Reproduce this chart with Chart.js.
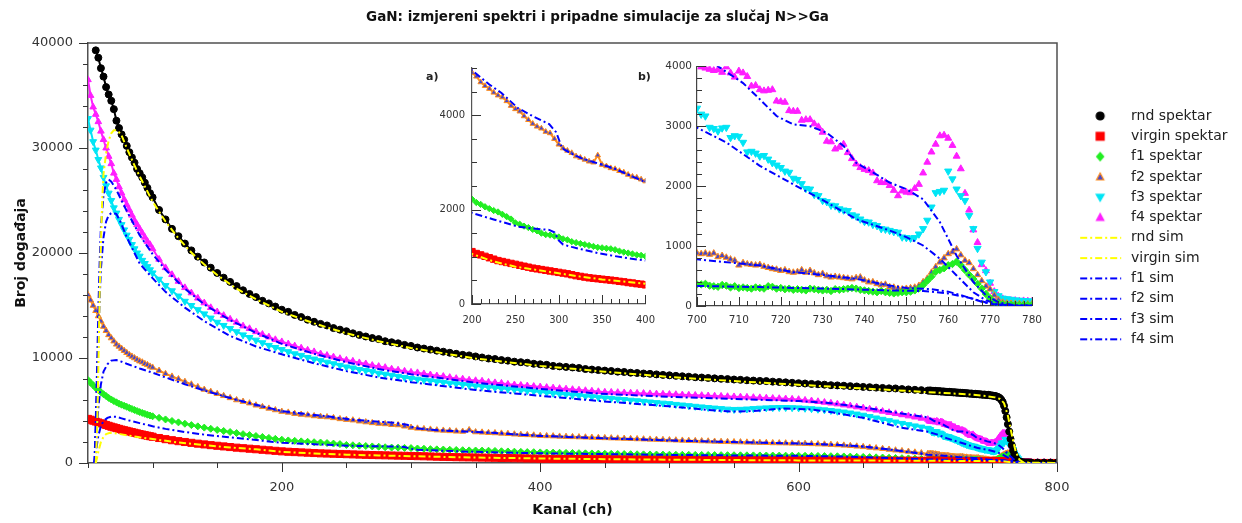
<!DOCTYPE html>
<html><head><meta charset="utf-8">
<script src="https://cdn.jsdelivr.net/npm/chart.js@4.4.1/dist/chart.umd.min.js"></script>
<style>
html,body{margin:0;padding:0;background:#fff;}
#wrap{position:relative;width:1242px;height:523px;overflow:hidden;background:#fff;}
canvas{position:absolute;}
#main{left:0;top:0;}
#insetA{left:430px;top:55px;}
#insetB{left:660px;top:55px;}
.lbl{position:absolute;font:bold 11px "DejaVu Sans",Verdana,sans-serif;color:#222;}
</style></head><body>
<div id="wrap">
<canvas id="main" width="1242" height="523"></canvas>
<canvas id="insetA" width="235" height="275"></canvas>
<canvas id="insetB" width="390" height="275"></canvas>
<div class="lbl" style="left:426px;top:70px">a)</div>
<div class="lbl" style="left:638px;top:70px">b)</div>
</div>
<script>
// ---------- channels (x) for the measured spectra ----------
const channels = [50,52,54,56,58,60,62,64,66,68,70,72,74,76,78,80,82,84,86,88,90,92,94,96,98,100,
105,110,115,120,125,130,135,140,145,150,
155,160,165,170,175,180,185,190,195,200,
205,210,215,220,225,230,235,240,245,250,
255,260,265,270,275,280,285,290,295,300,
305,310,315,320,325,330,335,340,345,350,
355,360,365,370,375,380,385,390,395,400,
405,410,415,420,425,430,435,440,445,450,
455,460,465,470,475,480,485,490,495,500,
505,510,515,520,525,530,535,540,545,550,
555,560,565,570,575,580,585,590,595,600,
605,610,615,620,625,630,635,640,645,650,
655,660,665,670,675,680,685,690,695,700,
701,702,703,704,705,706,707,708,709,710,
711,712,713,714,715,716,717,718,719,720,
721,722,723,724,725,726,727,728,729,730,
731,732,733,734,735,736,737,738,739,740,
741,742,743,744,745,746,747,748,749,750,
751,752,753,754,755,756,757,758,759,760,
761,762,763,764,765,766,767,768,769,770,
771,772,773,774,775,776,777,778,779,780,
785,790,795,800];

// ---------- measured spectra (counts) ----------
const rndSpektar = [null,null,null,39300,38600,37600,36800,35800,35100,34500,33700,32600,31900,31300,30800,30200,29600,29100,28600,28000,27600,27200,26700,26200,25700,25300,
24100,23200,22300,21600,20900,20250,19650,19100,18600,18100,
17650,17250,16850,16450,16100,15800,15450,15200,14900,14600,
14400,14100,13900,13650,13450,13250,13100,12850,12700,12550,
12350,12200,12050,11900,11800,11600,11500,11400,11250,11150,
11000,10900,10800,10700,10600,10500,10400,10300,10250,10150,
10050,9950,9900,9800,9750,9650,9600,9550,9450,9400,
9350,9250,9200,9150,9100,9050,8950,8900,8850,8800,
8760,8700,8670,8600,8570,8520,8490,8440,8390,8350,
8300,8260,8220,8170,8140,8100,8060,8020,7990,7950,
7920,7880,7850,7820,7800,7750,7720,7680,7640,7600,
7570,7530,7500,7460,7410,7390,7360,7320,7290,7250,
7220,7180,7150,7110,7100,7040,7010,6970,6940,6900,
6890,6910,6870,6880,6850,6870,6840,6820,6850,6810,
6800,6820,6780,6790,6770,6760,6780,6740,6750,6720,
6740,6700,6710,6690,6700,6670,6680,6650,6660,6630,
6640,6610,6600,6620,6580,6570,6590,6550,6560,6530,
6540,6510,6500,6520,6480,6470,6490,6450,6440,6420,
6400,6380,6350,6300,6250,6150,6000,5800,5450,4950,
4350,3700,3000,2300,1700,1200,800,520,320,190,
120,85,65,55,50,45,50,40,45,40,
42,38,40,36];

const virginSpektar = [4200,4120,4030,3950,3860,3780,3700,3620,3540,3460,3390,3320,3250,3180,3120,3060,3000,2940,2880,2820,2760,2710,2650,2600,2550,2500,
2380,2270,2170,2080,2000,1920,1840,1770,1700,1640,
1580,1520,1460,1410,1360,1310,1260,1210,1160,1110,
1070,1040,1010,980,950,920,900,880,860,840,
820,800,780,760,745,730,715,700,685,670,
655,640,620,600,585,570,555,545,535,525,
515,505,495,480,470,455,445,430,420,405,
400,395,390,385,380,375,370,365,360,355,
350,345,340,335,330,325,322,318,314,310,
306,302,298,294,290,287,284,281,278,275,
272,269,266,263,260,258,256,254,252,250,
248,246,244,242,240,238,236,234,232,230,
228,226,224,222,220,218,216,214,212,210,
210,208,212,206,209,204,207,203,206,201,
204,200,203,199,201,197,200,196,198,194,
197,193,195,191,194,190,192,188,191,187,
189,186,188,184,187,183,185,181,184,180,
182,179,181,177,180,176,178,174,176,172,
174,170,172,168,165,160,155,150,140,130,
115,100,85,70,55,40,28,18,12,8,
6,5,5,4,4,3,3,3,3,3,
2,2,2,2];

const f1Spektar = [7900,7650,7400,7150,6950,6750,6550,6380,6200,6050,5900,5780,5650,5550,5450,5350,5250,5150,5050,4950,4850,4770,4680,4600,4520,4450,
4300,4150,4000,3870,3740,3610,3490,3370,3260,3150,
3050,2950,2850,2750,2660,2570,2480,2390,2300,2220,
2150,2110,2060,2020,1980,1950,1900,1850,1800,1720,
1690,1650,1620,1580,1550,1500,1470,1460,1440,1420,
1380,1360,1320,1300,1280,1260,1240,1220,1200,1190,
1180,1170,1150,1120,1100,1080,1060,1040,1030,1010,
1000,990,975,960,950,935,920,910,895,880,
870,860,850,840,830,820,815,805,800,790,
785,780,775,770,765,760,755,750,745,740,
735,730,725,720,715,710,705,700,695,690,
685,680,670,660,650,640,625,610,595,580,
560,540,520,500,480,460,440,420,390,360,
360,370,340,330,320,350,340,310,330,300,
310,300,290,310,300,290,330,320,290,300,
280,290,270,280,270,260,290,280,270,260,
270,250,280,270,280,290,300,290,270,260,
250,240,230,250,230,220,210,220,230,230,
240,260,290,350,420,490,570,600,630,680,
700,740,680,600,520,450,370,290,200,130,
70,40,30,25,20,20,18,15,15,15,
12,12,10,10];

const f2Spektar = [16000,15500,15000,14500,14000,13500,13000,12600,12200,11900,11600,11300,11100,10900,10700,10500,10300,10150,10000,9850,9700,9600,9450,9350,9200,9100,
8800,8500,8250,8000,7750,7500,7250,7000,6800,6600,
6400,6200,6000,5850,5700,5500,5350,5200,5050,4900,
4820,4700,4620,4560,4480,4420,4380,4300,4200,4130,
4080,3980,3900,3820,3760,3720,3650,3620,3500,3380,
3300,3250,3200,3130,3100,3060,3020,3000,3150,2950,
2920,2880,2860,2820,2790,2740,2700,2680,2640,2600,
2580,2560,2530,2510,2490,2470,2450,2430,2410,2390,
2370,2350,2330,2310,2290,2270,2250,2230,2210,2190,
2170,2150,2130,2110,2090,2070,2050,2030,2020,2000,
1990,1970,1960,1940,1930,1910,1900,1890,1870,1860,
1840,1820,1800,1780,1750,1720,1680,1640,1590,1540,
1480,1420,1360,1290,1220,1150,1090,1020,950,880,
870,880,860,880,820,840,810,780,760,680,
720,700,690,680,690,660,640,620,610,590,
600,570,560,570,600,560,590,550,520,540,
500,480,490,480,470,460,450,470,480,430,
400,400,370,350,360,320,310,290,280,290,
300,310,340,400,460,560,650,730,800,870,
900,950,850,760,720,620,520,420,330,280,
180,100,60,45,40,35,35,30,30,30,
28,25,25,22];

const f3Spektar = [32800,31700,30600,29800,28900,28100,27200,26400,25700,25000,24300,23800,23200,22700,22200,21700,21300,20800,20400,20000,19700,19300,19000,18700,18400,18100,
17500,16900,16400,15900,15400,15000,14600,14200,13800,13400,
13100,12800,12500,12200,11950,11700,11450,11200,11000,10800,
10600,10400,10250,10050,9900,9750,9600,9450,9300,9150,
9050,8900,8800,8700,8550,8450,8350,8250,8150,8050,
7980,7900,7830,7750,7680,7600,7540,7470,7400,7340,
7280,7220,7160,7100,7040,6990,6930,6880,6830,6760,
6700,6640,6580,6530,6470,6420,6360,6310,6250,6200,
6150,6090,6040,5980,5930,5870,5810,5750,5700,5650,
5580,5520,5460,5400,5340,5280,5230,5180,5130,5100,
5110,5140,5180,5220,5250,5270,5280,5280,5270,5250,
5210,5170,5120,5060,5000,4930,4850,4760,4660,4550,
4420,4290,4160,4030,3900,3770,3650,3530,3420,3300,
3200,3170,2980,2960,2920,2970,2980,2810,2840,2830,
2730,2570,2580,2550,2500,2510,2450,2390,2350,2310,
2250,2230,2130,2110,2040,1960,1950,1860,1840,1760,
1740,1680,1670,1620,1600,1590,1520,1500,1450,1410,
1400,1360,1340,1290,1280,1260,1240,1230,1150,1140,
1130,1140,1200,1290,1430,1650,1890,1910,1930,2250,
2120,1950,1840,1760,1510,1290,960,730,570,400,
240,170,130,120,110,100,95,90,85,80,
75,70,72,65];

const f4Spektar = [36500,35000,33900,33200,32500,31600,30800,30000,29200,28500,27600,27000,26300,25700,25100,24600,24100,23600,23100,22700,22300,21900,21500,21100,20800,20400,
19400,18600,17950,17300,16700,16200,15700,15250,14800,14400,
14050,13700,13400,13050,12800,12500,12250,12000,11750,11550,
11350,11150,10950,10750,10600,10400,10250,10100,9950,9800,
9700,9550,9450,9300,9200,9100,8950,8850,8750,8650,
8600,8500,8400,8300,8250,8150,8050,8000,7900,7850,
7800,7700,7650,7600,7500,7450,7400,7350,7300,7250,
7200,7150,7100,7050,7000,6950,6900,6850,6800,6750,
6740,6720,6690,6670,6650,6630,6600,6580,6560,6540,
6520,6490,6470,6450,6430,6400,6380,6360,6330,6310,
6290,6270,6240,6220,6190,6160,6140,6110,6080,6050,
5980,5920,5850,5780,5700,5620,5530,5440,5340,5240,
5140,5030,4920,4810,4700,4590,4480,4370,4260,4150,
3990,3970,3950,3930,3940,3900,3990,3890,3820,3920,
3890,3830,3670,3680,3610,3590,3600,3610,3420,3410,
3400,3260,3250,3250,3100,3110,3110,3040,2990,2900,
2750,2740,2620,2650,2700,2560,2460,2370,2310,2280,
2260,2220,2090,2060,2060,2010,1930,1840,1920,1900,
1890,1960,2030,2220,2400,2570,2700,2840,2850,2800,
2680,2500,2290,1880,1600,1270,1060,690,590,380,
240,160,120,100,90,90,80,85,80,75,
70,65,70,60];

// ---------- simulations ----------
const rndSimX = [56,57,58,59,60,61,62,64,66,68,70,72,74,76,80,85,90,100,110,120,130,140,150,165,180,200,225,250,275,300,350,400,450,500,550,600,650,700,730,745,752,756,759,762,765,768,771,774,780,800];
const rndSimY = [0,3000,9000,16000,21000,25000,27500,29500,30700,31400,31700,31700,31500,31200,30000,28600,27300,24900,23000,21400,20050,18900,17900,16600,15600,14400,13300,12350,11600,10950,9950,9250,8700,8200,7800,7450,7100,6750,6550,6380,6250,6100,5700,4500,2700,1100,300,60,20,10];

const virginSimX = [56,57,58,60,62,64,67,70,75,80,90,100,120,140,160,180,200,225,250,275,300,325,350,375,400,450,500,550,600,650,700,740,755,760,764,768,772,780,800];
const virginSimY = [0,500,1100,2000,2500,2750,2870,2850,2750,2650,2450,2280,1950,1700,1480,1300,1060,900,790,720,650,580,520,475,430,365,315,280,250,230,210,190,175,150,80,25,5,0,0];

const f1SimX = [55,56,57,58,60,62,65,68,72,76,80,90,100,110,125,140,157,175,200,225,253,270,289,295,300,305,315,326,345,363,380,400,450,500,550,600,625,650,675,700,715,731,746,754,760,766,770,774,780,800];
const f1SimY = [0,800,1800,2600,3500,4000,4300,4420,4400,4250,4100,3800,3500,3250,2950,2700,2480,2250,1930,1790,1640,1600,1570,1520,1350,1260,1210,1160,1080,1020,970,920,850,770,720,680,640,570,450,335,315,290,260,250,210,120,40,10,5,0];

const f2SimX = [55,56,57,58,60,62,65,68,72,76,80,90,100,110,125,140,157,175,200,220,234,253,270,289,297,304,315,326,345,363,380,400,450,500,550,600,625,650,675,700,715,723,731,738,746,750,756,760,764,768,772,776,800];
const f2SimY = [0,1500,3500,5300,7500,8700,9400,9750,9800,9650,9450,9000,8600,8150,7500,6900,6290,5700,4950,4650,4470,4150,3980,3810,3640,3300,3180,3090,2980,2880,2740,2580,2340,2140,1990,1860,1760,1580,1220,780,676,565,510,454,343,300,280,240,160,70,15,5,0];

const f3SimX = [55,56,57,58,59,60,62,64,66,68,70,72,75,80,90,100,110,125,140,160,180,200,225,250,275,300,350,400,446,500,530,549,565,588,610,627,650,678,700,707,715,723,731,738,746,750,754,758,762,766,769,772,776,800];
const f3SimY = [0,3000,7000,11500,15500,18500,21500,23000,23600,23800,23800,23700,23000,21500,19000,17600,16300,14800,13500,12100,11100,10350,9500,8750,8150,7700,6950,6400,5900,5400,5050,4900,4950,5200,5100,4800,4300,3400,2975,2730,2340,2030,1730,1450,1260,1150,1010,790,510,230,95,25,5,0];

const f4SimX = [55,56,57,58,59,60,62,64,66,68,72,76,80,90,100,110,125,140,160,180,200,225,250,275,300,350,400,446,500,550,600,625,650,675,700,705,711,715,719,723,727,731,735,738,742,746,750,754,758,762,766,769,772,776,800];
const f4SimY = [0,4000,9000,14500,19000,22500,25500,26700,27000,26800,26000,25000,24000,21700,19900,18400,16600,15100,13600,12400,11350,10400,9600,8950,8450,7650,7050,6600,6300,6100,5900,5700,5300,4800,4350,4000,3720,3450,3170,3030,3000,2890,2670,2390,2230,2060,1950,1780,1400,840,400,180,60,10,0];

// ---------- ticks ----------
const yMainTicks = [0,10000,20000,30000,40000];
const yMainMinor = [2000,4000,6000,8000,12000,14000,16000,18000,22000,24000,26000,28000,32000,34000,36000,38000];
const xMainTicks = [200,400,600,800];
const xMainMinor = [50,100,150,250,300,350,450,500,550,650,700,750];
const xATicks = [200,250,300,350,400];
const xAMinor = [210,220,230,240,260,270,280,290,310,320,330,340,360,370,380,390];
const yATicks = [0,2000,4000];
const yAMinor = [500,1000,1500,2500,3000,3500,4500,5000];
const xBTicks = [700,710,720,730,740,750,760,770,780];
const xBMinor = [702,704,706,708,712,714,716,718,722,724,726,728,732,734,736,738,742,744,746,748,752,754,756,758,762,764,766,768,772,774,776,778];
const yBTicks = [0,1000,2000,3000,4000];
const yBMinor = [200,400,600,800,1200,1400,1600,1800,2200,2400,2600,2800,3200,3400,3600,3800];

const FONT = "'DejaVu Sans', Verdana, sans-serif";
Chart.defaults.font.family = FONT;
Chart.defaults.color = '#333';

function xy(xs, ys) { const out = []; for (let i = 0; i < xs.length; i++) out.push({x: xs[i], y: ys[i]}); return out; }

const specDefs = [
  {label:'rnd spektar', ys: rndSpektar, style:'circle', rot:0, r:3.5, fill:'#000000', line:'#000000', mk:'circle'},
  {label:'virgin spektar', ys: virginSpektar, style:'rect', rot:0, r:5, fill:'#ff0000', line:'#ff0000', mk:'rect'},
  {label:'f1 spektar', ys: f1Spektar, style:'rectRot', rot:0, r:3.5, fill:'#22ee22', line:'#22ee22', mk:'diamond'},
  {label:'f2 spektar', ys: f2Spektar, style:'triangle', rot:0, r:3.5, fill:'#4848c8', line:'#ff8c1a', mk:'tri'},
  {label:'f3 spektar', ys: f3Spektar, style:'triangle', rot:180, r:4, fill:'#00e5f5', line:'#00e5f5', mk:'tridown'},
  {label:'f4 spektar', ys: f4Spektar, style:'triangle', rot:0, r:3.8, fill:'#ff1eff', line:'#ff1eff', mk:'tri'}
];
const simDefs = [
  {label:'rnd sim', xs: rndSimX, ys: rndSimY, color:'#ffff00'},
  {label:'virgin sim', xs: virginSimX, ys: virginSimY, color:'#ffff00'},
  {label:'f1 sim', xs: f1SimX, ys: f1SimY, color:'#0000ff'},
  {label:'f2 sim', xs: f2SimX, ys: f2SimY, color:'#0000ff'},
  {label:'f3 sim', xs: f3SimX, ys: f3SimY, color:'#0000ff'},
  {label:'f4 sim', xs: f4SimX, ys: f4SimY, color:'#0000ff'}
];
const DASH = [7,3,2,3];

function specDataset(d, opt) {
  return {
    label: d.label, data: xy(channels, d.ys), order: 1,
    showLine: opt.line, borderColor: d.line, borderWidth: opt.lineWidth || 2,
    backgroundColor: d.fill, pointStyle: d.style, rotation: d.rot,
    pointRadius: d.r * (opt.scale || 1), pointBackgroundColor: d.fill, pointBorderColor: d.line, pointBorderWidth: 1
  };
}
function simDataset(d) {
  return { label: d.label, data: xy(d.xs, d.ys), order: 0, showLine: true, borderColor: d.color,
    backgroundColor: d.color, borderWidth: 2, borderDash: DASH, pointRadius: 0, tension: 0 };
}

function legendMarker(kind, color, fill) {
  const c = document.createElement('canvas'); c.width = 61; c.height = 16;
  const g = c.getContext('2d'); const cx = 37, cy = 8;
  g.fillStyle = fill || color; g.strokeStyle = color; g.lineWidth = 1.2;
  g.beginPath();
  if (kind === 'line') { g.lineWidth = 2; g.setLineDash(DASH); g.moveTo(17, cy); g.lineTo(58, cy); g.stroke(); return c; }
  if (kind === 'circle') { g.arc(cx, cy, 4, 0, Math.PI * 2); }
  else if (kind === 'rect') { g.rect(cx - 4, cy - 4, 8, 8); }
  else if (kind === 'diamond') { g.moveTo(cx, cy - 4); g.lineTo(cx + 3.5, cy); g.lineTo(cx, cy + 4); g.lineTo(cx - 3.5, cy); g.closePath(); }
  else if (kind === 'tri') { g.moveTo(cx, cy - 4); g.lineTo(cx + 3.7, cy + 3); g.lineTo(cx - 3.7, cy + 3); g.closePath(); }
  else if (kind === 'tridown') { g.moveTo(cx, cy + 4); g.lineTo(cx + 4, cy - 3); g.lineTo(cx - 4, cy - 3); g.closePath(); }
  g.fill(); g.stroke();
  return c;
}
const legendImgs = specDefs.map(d => legendMarker(d.mk, d.line, d.fill)).concat(simDefs.map(d => legendMarker('line', d.color)));

const tickMarks = {
  id: 'tickMarks',
  afterDraw(chart, args, opts) {
    if (!opts || !opts.items) return;
    const ctx = chart.ctx, ca = chart.chartArea;
    ctx.save(); ctx.strokeStyle = opts.color || '#333'; ctx.lineWidth = opts.width || 1;
    for (const it of opts.items) {
      const sc = chart.scales[it.axis]; const dir = it.inside ? -1 : 1;
      ctx.beginPath();
      for (const v of it.values) {
        const p = Math.round(sc.getPixelForValue(v)) + 0.5;
        if (sc.isHorizontal()) { ctx.moveTo(p, ca.bottom); ctx.lineTo(p, ca.bottom + dir * it.len); }
        else { ctx.moveTo(ca.left, p); ctx.lineTo(ca.left - dir * it.len, p); }
      }
      ctx.stroke();
    }
    ctx.restore();
  }
};
const frame = {
  id: 'frame',
  afterDraw(chart, args, opts) {
    if (!opts || !opts.show) return;
    const ctx = chart.ctx, ca = chart.chartArea;
    ctx.save(); ctx.strokeStyle = opts.color; ctx.lineWidth = opts.width;
    ctx.beginPath(); ctx.moveTo(ca.left, ca.top); ctx.lineTo(ca.right, ca.top); ctx.lineTo(ca.right, ca.bottom); ctx.stroke();
    ctx.restore();
  }
};
const legendWidth = {
  id: 'legendWidth',
  beforeLayout(chart, args, opts) {
    const lg = chart.legend;
    if (lg && !lg._fixedW) {
      const orig = lg.fit.bind(lg);
      lg.fit = function () { orig(); this.width = opts.width; };
      lg._fixedW = true;
    }
  },
  afterLayout(chart, args, opts) {
    const t = chart.titleBlock;
    if (t && opts.titleShift) { t.left += opts.titleShift; t.right += opts.titleShift; }
  }
};

function setTicks(list) { return s => { s.ticks = list.map(v => ({value: v})); }; }

// ---------- main chart ----------
new Chart(document.getElementById('main'), {
  type: 'scatter',
  data: { datasets: specDefs.map(d => specDataset(d, {line: true, lineWidth: 2})).concat(simDefs.map(simDataset)) },
  plugins: [tickMarks, frame, legendWidth],
  options: {
    responsive: false, animation: false, events: [],
    layout: { padding: 0 },
    scales: {
      x: { type: 'linear', min: 50, max: 800, afterBuildTicks: setTicks(xMainTicks), afterFit: s => { s.height = 60; },
        ticks: { padding: 17, font: { size: 13 }, color: '#333', callback: v => String(v) },
        grid: { display: true, drawOnChartArea: false, drawTicks: false },
        border: { display: true, color: '#505050', width: 1.5 },
        title: { display: true, text: 'Kanal (ch)', font: { size: 14, weight: 'bold' }, color: '#111', padding: { top: 4, bottom: 4 } } },
      y: { type: 'linear', min: 0, max: 40000, afterBuildTicks: setTicks(yMainTicks), afterFit: s => { s.width = 88; },
        ticks: { padding: 15, font: { size: 13 }, color: '#333', callback: v => String(v) },
        grid: { display: true, drawOnChartArea: false, drawTicks: false },
        border: { display: true, color: '#505050', width: 1.5 },
        title: { display: true, text: 'Broj događaja', font: { size: 14, weight: 'bold' }, color: '#111', padding: { top: 13, bottom: 0 } } }
    },
    plugins: {
      title: { display: true, fullSize: false, text: 'GaN: izmjereni spektri i pripadne simulacije za slučaj N>>Ga',
        font: { size: 13.5, weight: 'bold' }, color: '#111', padding: { top: 9, bottom: 17.8 } },
      legend: { display: true, position: 'right', align: 'start',
        title: { display: true, text: ' ', font: { size: 14 }, padding: { top: 0, bottom: 85.9 } },
        labels: { usePointStyle: true, pointStyleWidth: 60.7, padding: 6.3, font: { size: 14 }, color: '#222',
          generateLabels: chart => chart.data.datasets.map((ds, i) => ({ text: ds.label, pointStyle: legendImgs[i],
            fillStyle: '#000', strokeStyle: 'rgba(0,0,0,0)', lineWidth: 0, hidden: false, datasetIndex: i, fontColor: '#222' })) } },
      tooltip: { enabled: false },
      legendWidth: { width: 185, titleShift: 25 },
      frame: { show: true, color: '#505050', width: 1.5 },
      tickMarks: { color: '#333', width: 1, items: [
        { axis: 'x', values: xMainTicks, len: 9 }, { axis: 'x', values: xMainMinor, len: 5 },
        { axis: 'y', values: yMainTicks, len: 9 }, { axis: 'y', values: yMainMinor, len: 5 } ] }
    }
  }
});

// ---------- inset a) ----------
const insetASpec = [1, 2, 3];
const insetASim = [1, 2, 3];
new Chart(document.getElementById('insetA'), {
  type: 'scatter',
  data: { datasets: insetASpec.map(i => specDataset(specDefs[i], {line: true, lineWidth: 2, scale: 0.9})).concat(insetASim.map(i => simDataset(simDefs[i]))) },
  plugins: [tickMarks],
  options: {
    responsive: false, animation: false, events: [],
    layout: { padding: { top: 7, right: 11, left: 0, bottom: 0 } },
    scales: {
      x: { type: 'linear', min: 200, max: 400, afterBuildTicks: setTicks(xATicks), afterFit: s => { s.height = 26; },
        ticks: { padding: 10, font: { size: 10 }, color: '#333', callback: v => String(v) },
        grid: { display: true, drawOnChartArea: false, drawTicks: false },
        border: { display: true, color: '#555', width: 1.2 } },
      y: { type: 'linear', min: 0, max: 5000, afterBuildTicks: setTicks(yATicks), afterFit: s => { s.width = 42; },
        ticks: { padding: 7, font: { size: 10 }, color: '#333', callback: v => String(v) },
        grid: { display: true, drawOnChartArea: false, drawTicks: false },
        border: { display: true, color: '#555', width: 1.2 } }
    },
    plugins: { legend: { display: false }, tooltip: { enabled: false },
      tickMarks: { color: '#333', width: 1, items: [
        { axis: 'x', values: xATicks, len: 9, inside: true }, { axis: 'x', values: xAMinor, len: 5, inside: true },
        { axis: 'y', values: yATicks, len: 9, inside: true }, { axis: 'y', values: yAMinor, len: 5, inside: true } ] } }
  }
});

// ---------- inset b) ----------
const insetBSpec = [2, 3, 4, 5];
const insetBSim = [2, 3, 4, 5];
new Chart(document.getElementById('insetB'), {
  type: 'scatter',
  data: { datasets: insetBSpec.map(i => specDataset(specDefs[i], {line: false, scale: 1.05})).concat(insetBSim.map(i => simDataset(simDefs[i]))) },
  plugins: [tickMarks],
  options: {
    responsive: false, animation: false, events: [],
    layout: { padding: { top: 10, right: 14, left: 0, bottom: 0 } },
    scales: {
      x: { type: 'linear', min: 700, max: 780, afterBuildTicks: setTicks(xBTicks), afterFit: s => { s.height = 24; },
        ticks: { padding: 8, font: { size: 10.5 }, color: '#333', callback: v => String(v) },
        grid: { display: true, drawOnChartArea: false, drawTicks: false },
        border: { display: true, color: '#444', width: 1.2 } },
      y: { type: 'linear', min: 0, max: 4000, afterBuildTicks: setTicks(yBTicks), afterFit: s => { s.width = 37; },
        ticks: { padding: 5, font: { size: 10.5 }, color: '#333', callback: v => String(v) },
        grid: { display: true, drawOnChartArea: false, drawTicks: false },
        border: { display: true, color: '#444', width: 1.2 } }
    },
    plugins: { legend: { display: false }, tooltip: { enabled: false },
      tickMarks: { color: '#333', width: 1, items: [
        { axis: 'x', values: xBTicks, len: 9, inside: true }, { axis: 'x', values: xBMinor, len: 5, inside: true },
        { axis: 'y', values: yBTicks, len: 9, inside: true }, { axis: 'y', values: yBMinor, len: 5, inside: true } ] } }
  }
});
</script>
</body></html>
